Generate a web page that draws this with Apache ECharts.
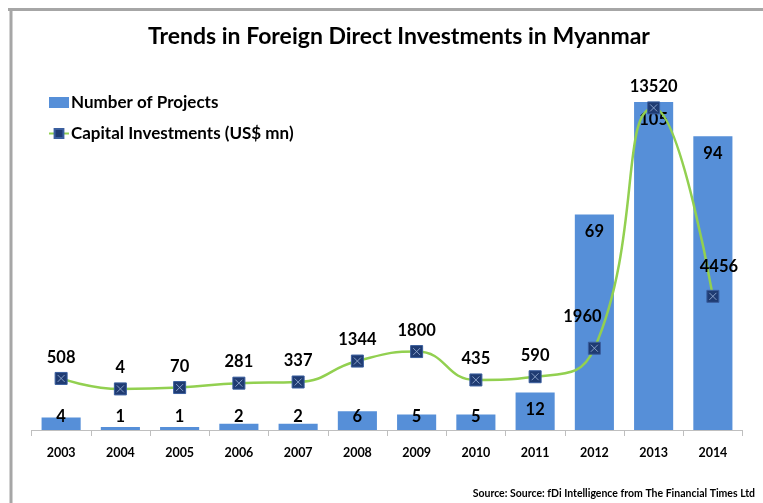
<!DOCTYPE html>
<html>
<head>
<meta charset="utf-8">
<title>Trends in Foreign Direct Investments in Myanmar</title>
<script src="https://cdn.jsdelivr.net/npm/echarts@6/dist/echarts.min.js"></script>
<style>
  html, body { margin: 0; padding: 0; background: #fff; }
  #chart { width: 763px; height: 503px; }
</style>
</head>
<body>
<div id="chart"></div>
<script>
// FDI v Myanmaru: sloupce = počet projektů, čára = kapitálové investice (US$ mn)
const years = ['2003', '2004', '2005', '2006', '2007', '2008', '2009', '2010', '2011', '2012', '2013', '2014'];
const projects = [4, 1, 1, 2, 2, 6, 5, 5, 12, 69, 105, 94];
const capital = [508, 4, 70, 281, 337, 1344, 1800, 435, 590, 1960, 13520, 4456];

// ručně posunuté popisky (jako v originálu)
const labelNudge = { '2012': [-12, -11], '2014': [6, -9] };

const FONT = 'Lato, "Open Sans", sans-serif';
const BAR = '#568fd8';
const NAVY = '#1f3b72';

const chart = echarts.init(document.getElementById('chart'));

const barData = projects.map(v => v < 10
  ? { value: v, label: { position: 'insideBottom', distance: 5 } }
  : v);

const lineData = capital.map((v, i) => labelNudge[years[i]]
  ? { value: v, label: { offset: labelNudge[years[i]] } }
  : v);

chart.setOption({
  backgroundColor: '#fff',
  animation: false,
  title: {
    text: 'Trends in Foreign Direct Investments in Myanmar',
    left: 394,
    textAlign: 'center',
    top: 20,
    textStyle: { fontFamily: FONT, fontSize: 23, fontWeight: 'bold', color: '#000' },
  },
  graphic: [
    { type: 'line', shape: { x1: 8, y1: 9.5, x2: 763, y2: 9.5 }, style: { stroke: '#a6a6a6', lineWidth: 3 } },
    { type: 'line', shape: { x1: 11, y1: 8, x2: 11, y2: 503 }, style: { stroke: '#a6a6a6', lineWidth: 3 } },
    {
      type: 'text', right: 8, top: 488,
      style: {
        text: 'Source: Source: fDi Intelligence from The Financial Times Ltd',
        font: 'bold 10.5px ' + FONT, fill: '#000',
      },
    },
  ],
  legend: {
    data: [
      { name: 'Number of Projects', icon: 'rect' },
      { name: 'Capital Investments (US$ mn)' },
    ],
    orient: 'vertical',
    left: 43,
    top: 89,
    itemWidth: 20,
    itemHeight: 11,
    itemGap: 14,
    textStyle: { fontFamily: FONT, fontSize: 17, fontWeight: 'bold', color: '#000', padding: [0, 0, 0, -3] },
  },
  grid: { left: 31.5, right: 20.5, top: 102, bottom: 73 },
  xAxis: {
    type: 'category',
    data: years,
    axisLine: { lineStyle: { color: '#bfbfbf', width: 1 } },
    axisTick: { show: true, length: 6, lineStyle: { color: '#bfbfbf' } },
    axisLabel: { margin: 16, fontFamily: FONT, fontSize: 12.5, fontWeight: 'bold', color: '#000' },
  },
  yAxis: [
    { type: 'value', min: 0, max: 105, show: false, splitLine: { show: false } },
    { type: 'value', min: -1972, max: 13804, show: false, splitLine: { show: false } },
  ],
  series: [
    {
      name: 'Number of Projects',
      type: 'bar',
      data: barData,
      barCategoryGap: '34%',
      itemStyle: { color: BAR },
      label: {
        show: true,
        position: 'insideTop',
        distance: 9,
        fontFamily: FONT, fontSize: 16.5, fontWeight: 'bold', color: '#000',
      },
    },
    {
      name: 'Capital Investments (US$ mn)',
      type: 'line',
      yAxisIndex: 1,
      data: lineData,
      smooth: true,
      symbol: 'rect',
      symbolSize: 12,
      lineStyle: { color: '#92d050', width: 2.5 },
      itemStyle: { color: NAVY, borderColor: '#3a5e9e', borderWidth: 1 },
      label: {
        show: true,
        position: 'top',
        distance: 6,
        fontFamily: FONT, fontSize: 16.5, fontWeight: 'bold', color: '#000',
      },
      z: 3,
    },
    {
      // světlý křížek uvnitř značek
      name: 'marks',
      type: 'scatter',
      yAxisIndex: 1,
      data: capital,
      silent: true,
      symbol: 'path://M0,0L10,10M10,0L0,10',
      symbolSize: 7,
      itemStyle: { color: 'transparent', borderColor: '#9db4da', borderWidth: 1 },
      z: 4,
    },
  ],
});
</script>
</body>
</html>
